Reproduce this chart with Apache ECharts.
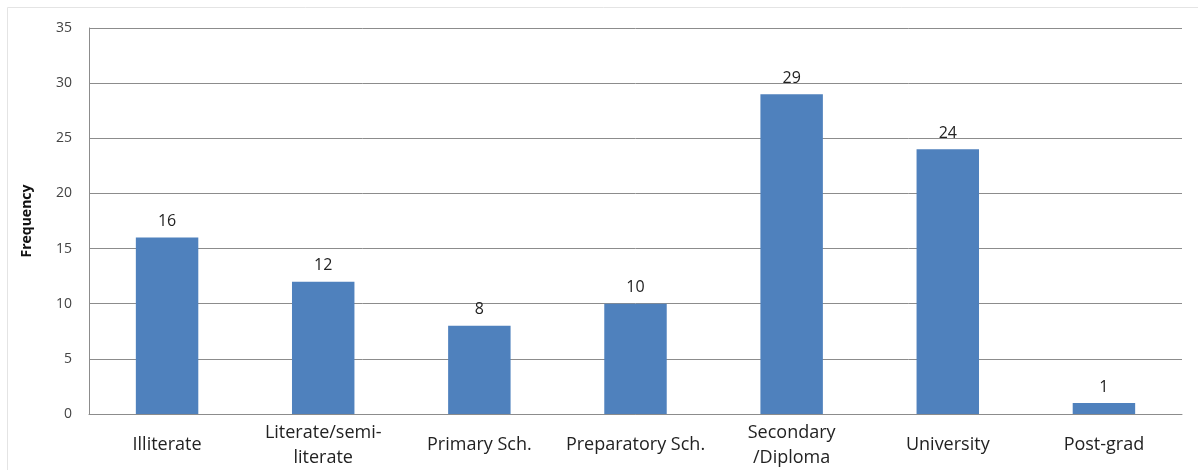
<!DOCTYPE html>
<html>
<head>
<meta charset="utf-8">
<script src="https://cdn.jsdelivr.net/npm/echarts@6/dist/echarts.min.js"></script>
<style>
    html, body { margin: 0; padding: 0; background: #fff; }
    #main { width: 1198px; height: 470px; }
</style>
</head>
<body>
<div id="main"></div>
<script>
'use strict';

var categories = ['Illiterate', 'Literate/semi-\nliterate', 'Primary Sch.', 'Preparatory Sch.', 'Secondary\n/Diploma', 'University', 'Post-grad'];
var frequency = [16, 12, 8, 10, 29, 24, 1];
var yTicks = { min: 0, max: 35, interval: 5 };

var myChart = echarts.init(document.getElementById('main'));

var option = {
    backgroundColor: '#fff',
    animation: false,
    textStyle: {
        fontFamily: '"Open Sans", "DejaVu Sans", sans-serif'
    },
    graphic: [{
        type: 'rect',
        shape: { x: 7.5, y: 7.5, width: 1200, height: 470 },
        style: { fill: 'none', stroke: '#e4e4e4', lineWidth: 1 },
        silent: true
    }],
    grid: {
        left: 89,
        right: 16,
        top: 28,
        bottom: 55
    },
    xAxis: {
        type: 'category',
        data: categories,
        axisLine: { lineStyle: { color: '#8c8c8c', width: 1 } },
        axisTick: { show: false },
        axisLabel: {
            color: '#222',
            fontSize: 18,
            lineHeight: 25,
            verticalAlign: 'middle',
            margin: 31,
            interval: 0
        }
    },
    yAxis: {
        type: 'value',
        min: yTicks.min,
        max: yTicks.max,
        interval: yTicks.interval,
        name: 'Frequency',
        nameLocation: 'middle',
        nameGap: 55,
        nameRotate: 90,
        nameTextStyle: {
            color: '#111',
            fontSize: 14,
            fontWeight: 'bold'
        },
        axisLine: { show: true, lineStyle: { color: '#8c8c8c', width: 1 } },
        axisTick: { show: false },
        axisLabel: {
            color: '#444',
            fontSize: 14,
            margin: 17
        },
        splitLine: { lineStyle: { color: '#8c8c8c', width: 1 } }
    },
    series: [{
        type: 'bar',
        data: frequency,
        barWidth: '40%',
        itemStyle: { color: '#4f81bd' },
        label: {
            show: true,
            position: 'top',
            distance: 8,
            color: '#222',
            fontSize: 16
        }
    }]
};

myChart.setOption(option);
</script>
</body>
</html>
